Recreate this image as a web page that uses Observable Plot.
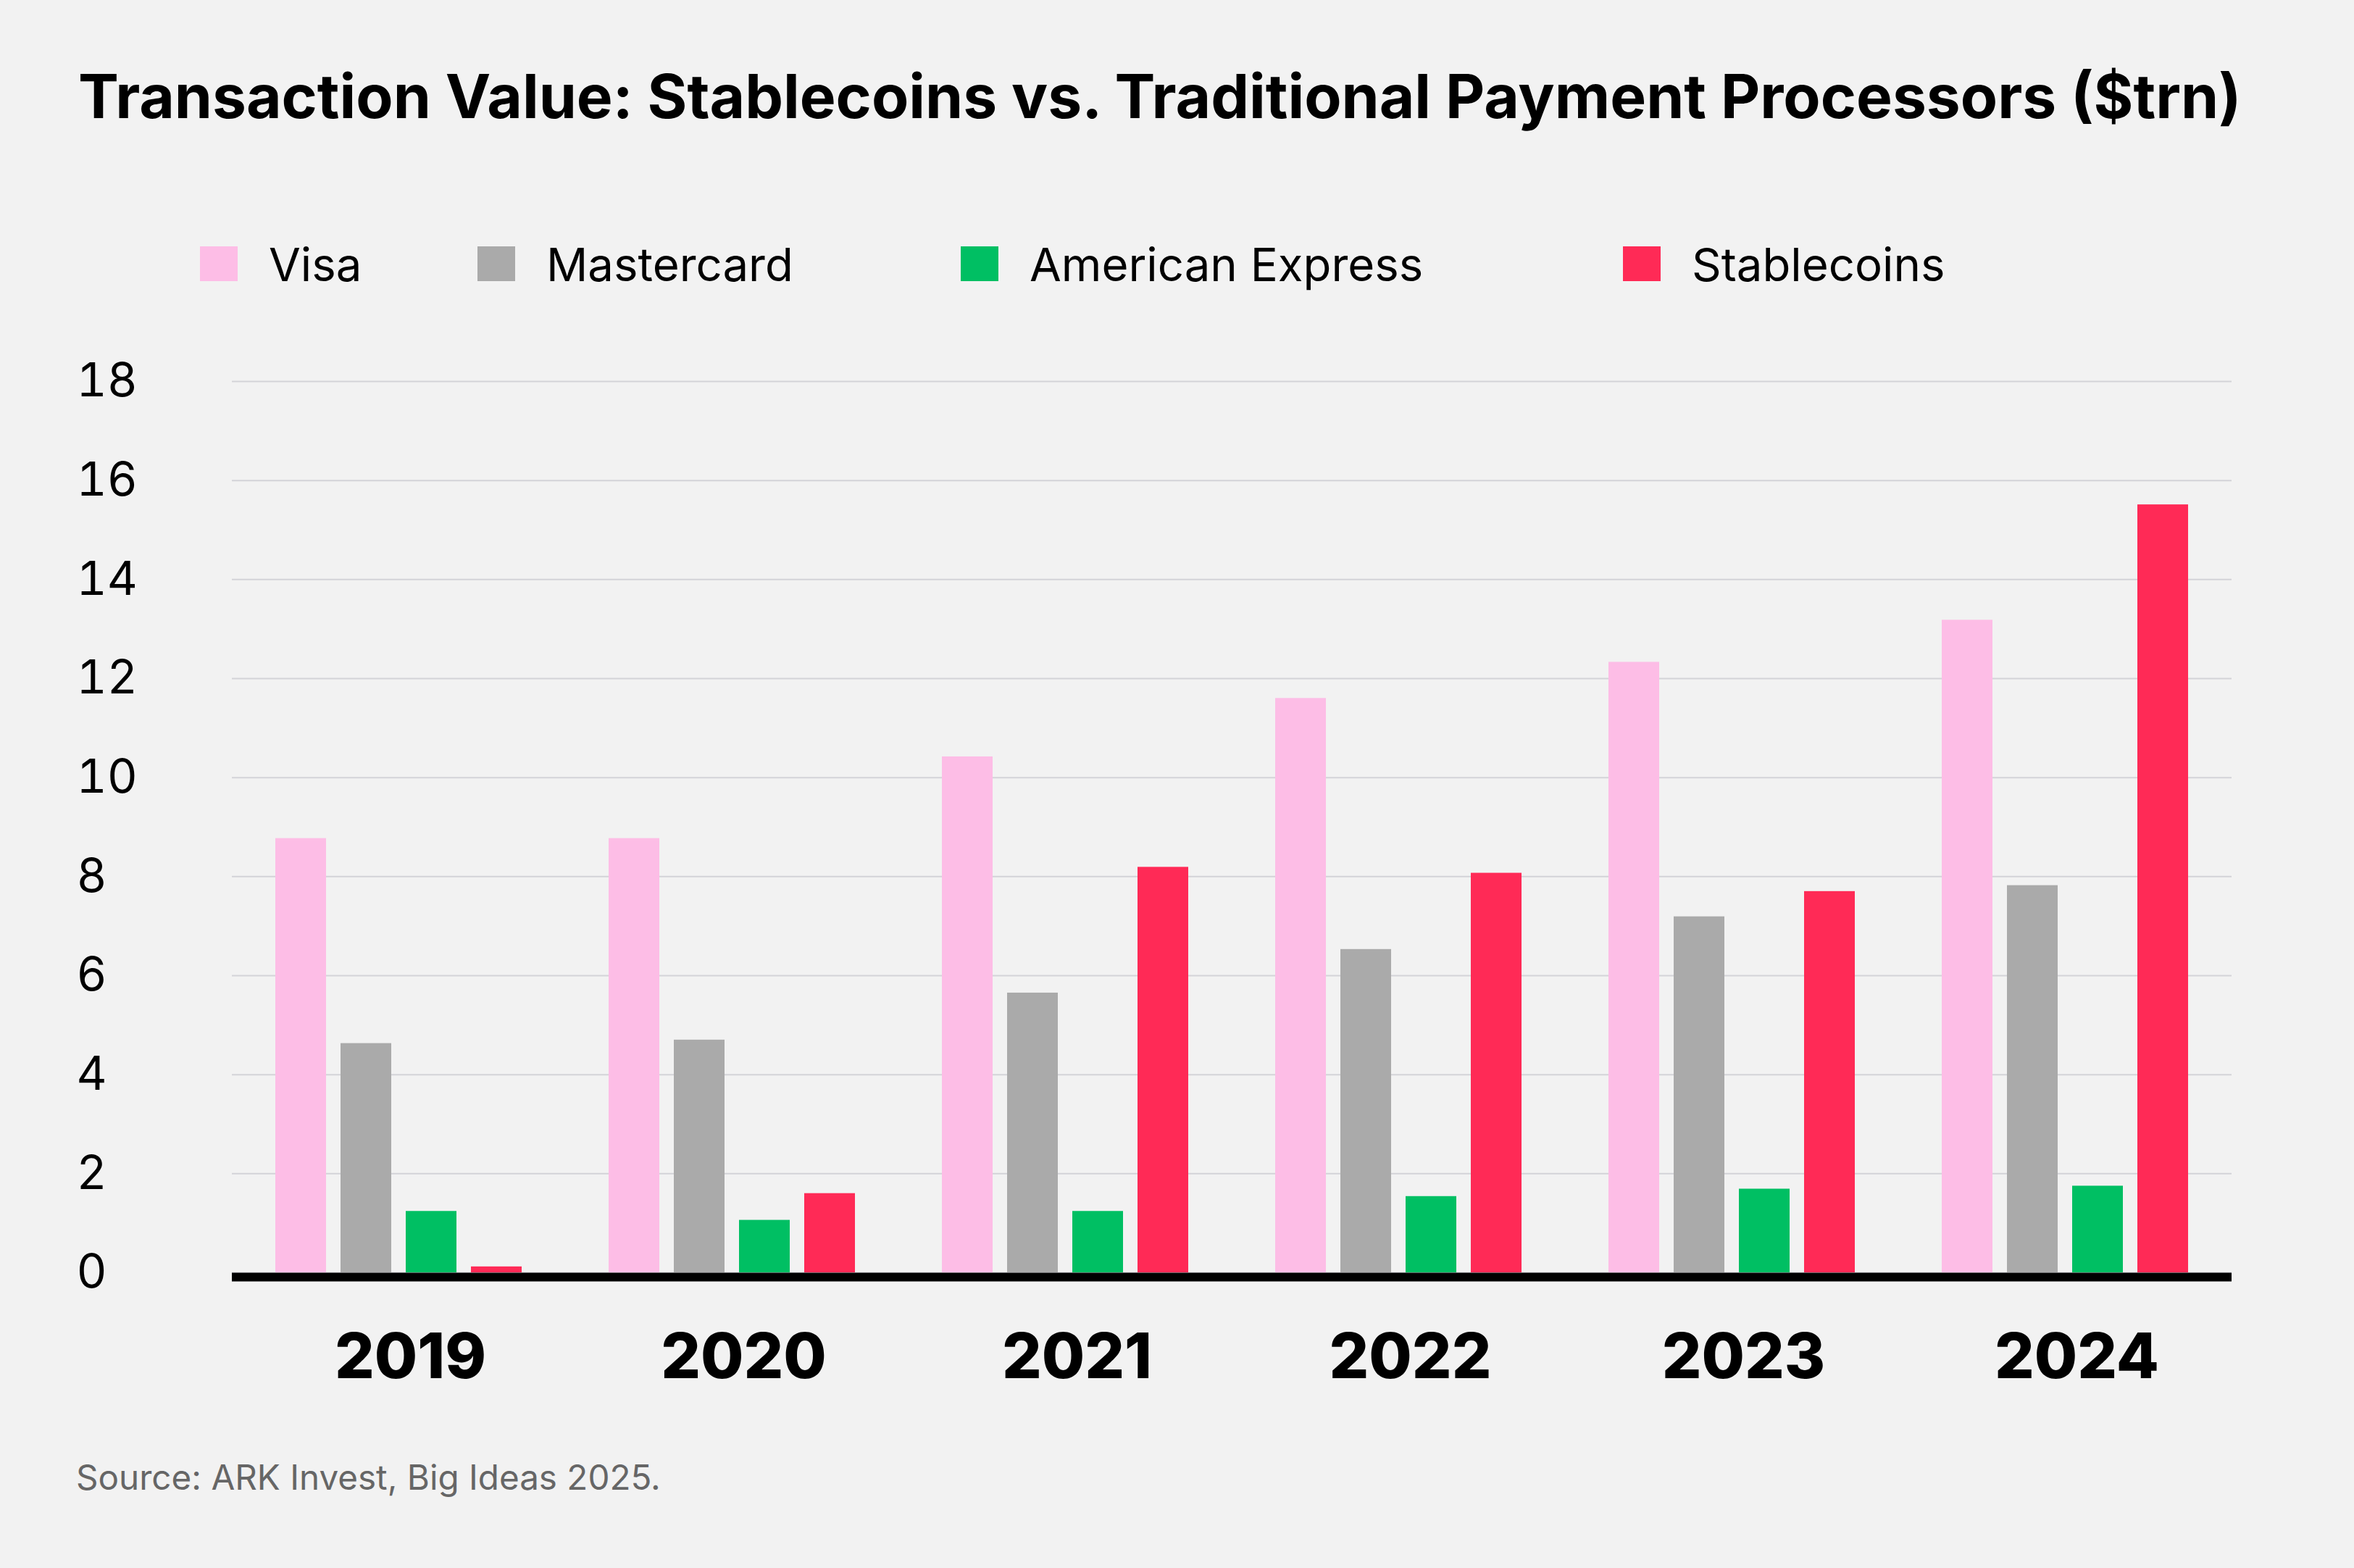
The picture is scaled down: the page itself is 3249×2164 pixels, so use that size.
<!DOCTYPE html>
<html><head><meta charset="utf-8">
<script src="https://cdn.jsdelivr.net/npm/d3@7"></script>
<script src="https://cdn.jsdelivr.net/npm/@observablehq/plot@0.6"></script>
<style>
html,body{margin:0;padding:0;background:#f2f2f2;}
#page{position:relative;width:3249px;height:2164px;background:#f2f2f2;font-family:Inter,"Noto Sans",sans-serif;overflow:hidden;color:#000;}
.t{position:absolute;white-space:nowrap;line-height:1;}
.sw{position:absolute;width:52px;height:48px;}
#chart{position:absolute;left:0;top:440px;}
</style></head><body><div id="page">
<div class="t" id="title" style="left:108px;top:91px;font-size:83.8px;font-weight:700;">Transaction Value: Stablecoins vs. Traditional Payment Processors ($trn)</div>
<div id="legend"></div>
<div id="chart"></div>
<div class="t" id="caption" style="left:105px;top:2015px;font-size:47.6px;color:#666;">Source: ARK Invest, Big Ideas 2025.</div>
</div>
<script>
const years = ["2019", "2020", "2021", "2022", "2023", "2024"];
const series = ["Visa", "Mastercard", "American Express", "Stablecoins"];
const colors = ["#fdbde6", "#aaaaaa", "#00bf63", "#ff2a56"];
const visa = [8.77, 8.77, 10.42, 11.60, 12.33, 13.18];
const mastercard = [4.63, 4.70, 5.65, 6.53, 7.19, 7.82];
const amex = [1.24, 1.06, 1.24, 1.54, 1.69, 1.75];
const stablecoins = [0.12, 1.60, 8.19, 8.07, 7.70, 15.51];
const yTicks = [0, 2, 4, 6, 8, 10, 12, 14, 16, 18];

const seriesValues = [visa, mastercard, amex, stablecoins];
const data = years.flatMap((yr, i) => series.map((s, j) => ({year: yr, series: s, value: seriesValues[j][i]})));

// legend (HTML, above the SVG)
const legendSwatchX = [276, 659, 1326, 2240];
const legend = document.getElementById("legend");
series.forEach((s, j) => {
  const sw = document.createElement("div");
  sw.className = "sw";
  sw.style.left = legendSwatchX[j] + "px";
  sw.style.top = "340px";
  sw.style.background = colors[j];
  legend.appendChild(sw);
  const lb = document.createElement("div");
  lb.className = "t";
  lb.style.left = (legendSwatchX[j] + 95) + "px";
  lb.style.top = "333px";
  lb.style.fontSize = "63.5px";
  lb.textContent = s;
  legend.appendChild(lb);
});

const chart = Plot.plot({
  width: 3249,
  height: 1516,
  marginLeft: 319,
  marginRight: 168,
  marginTop: 86,
  marginBottom: 200,
  style: {background: "transparent", fontFamily: "Inter, 'Noto Sans', sans-serif", color: "#000", overflow: "visible"},
  fx: {domain: years, padding: 0, label: null},
  x: {domain: series, paddingInner: 0.22, paddingOuter: 0.653, axis: null},
  y: {domain: [0, 18], label: null},
  color: {domain: series, range: colors},
  marks: [
    Plot.gridY(yTicks, {stroke: "#d3d3d8", strokeOpacity: 1, strokeWidth: 2}),
    Plot.barY(data, {fx: "year", x: "series", y: "value", fill: "series"}),
    Plot.ruleY([0], {stroke: "#000", strokeWidth: 12, dy: 6}),
    Plot.axisY(yTicks, {tickSize: 0, tickPadding: 0, textAnchor: "start", dx: -215, fontSize: 65, tickFormat: d3.format("d"), label: null}),
    Plot.axisFx({anchor: "bottom", tickSize: 0, tickPadding: 84, fontSize: 86, fontWeight: 800, dx: 16, label: null})
  ]
});
document.getElementById("chart").appendChild(chart);
</script>
</body></html>
